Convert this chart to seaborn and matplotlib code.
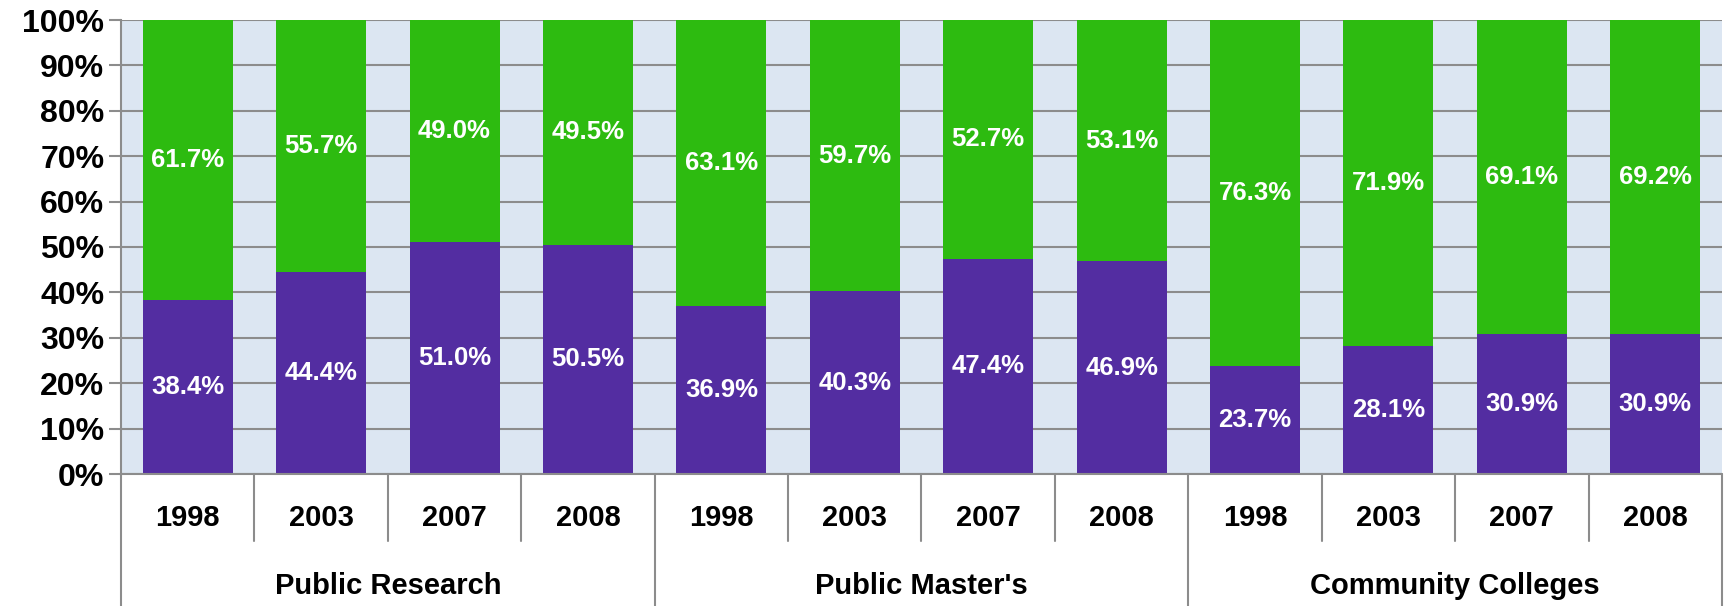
import pandas as pd
import numpy as np
import matplotlib.pyplot as plt
import matplotlib.transforms as mtransforms
import seaborn as sns

groups = ["Public Research", "Public Master's", "Community Colleges"]
years = ["1998", "2003", "2007", "2008"]
purple_vals = [38.4, 44.4, 51.0, 50.5, 36.9, 40.3, 47.4, 46.9, 23.7, 28.1, 30.9, 30.9]
green_vals = [61.7, 55.7, 49.0, 49.5, 63.1, 59.7, 52.7, 53.1, 76.3, 71.9, 69.1, 69.2]

purple = "#532DA1"
green = "#2DBB10"
grid_gray = "#8C8C8C"

sns.set_style("white")
plt.rcParams['font.family'] = ['Liberation Sans', 'DejaVu Sans']
plt.rcParams['font.weight'] = 'bold'
plt.rcParams['text.color'] = 'black'
plt.rcParams['ytick.labelcolor'] = 'black'

df = pd.DataFrame({
    "key": [f"{g}|{y}" for g in groups for y in years],
    "group": [g for g in groups for y in years],
    "year": [y for g in groups for y in years],
    "purple": purple_vals,
    "green": green_vals,
})
df["total"] = df["purple"] + df["green"]

fig = plt.figure(figsize=(17.31, 6.06), dpi=100)
ax = fig.add_axes([121 / 1731, 1 - 474 / 606, (1722 - 121) / 1731, 454 / 606])
ax.set_facecolor("#DCE6F2")

sns.barplot(data=df, x="key", y="total", color=green, width=0.675,
            saturation=1, ax=ax, zorder=3, linewidth=0)
sns.barplot(data=df, x="key", y="purple", color=purple, width=0.675,
            saturation=1, ax=ax, zorder=4, linewidth=0)

ax.set_ylim(0, 100)
ax.set_xlim(-0.5, len(df) - 0.5)
ax.set_yticks(np.arange(0, 101, 10))
ax.set_yticklabels([f"{v}%" for v in range(0, 101, 10)], fontsize=23,
                   fontweight="bold", color="black")
ax.yaxis.grid(True, color=grid_gray, linewidth=1.5, zorder=1)
ax.set_axisbelow(True)
ax.tick_params(axis="y", length=9, width=1.5, color=grid_gray, pad=3, left=True)
ax.set_xticks([])
ax.set_xlabel("")
ax.set_ylabel("")
for side in ["top", "right", "bottom"]:
    ax.spines[side].set_visible(False)
ax.spines["left"].set_color(grid_gray)
ax.spines["left"].set_linewidth(1.5)

# segment labels
for i, row in df.iterrows():
    ax.text(i, row["purple"] / 2, f"{row['purple']:.1f}%", ha="center", va="center",
            color="white", fontsize=18.5, fontweight="bold", zorder=5)
    ax.text(i, row["purple"] + row["green"] / 2, f"{row['green']:.1f}%", ha="center",
            va="center", color="white", fontsize=18.5, fontweight="bold", zorder=5)

# two-level category axis
trans = mtransforms.blended_transform_factory(ax.transData, ax.transAxes)
n = len(df)
ax.plot([-0.5, n - 0.5], [0, 0], color=grid_gray, lw=1.5, transform=trans, clip_on=False, zorder=6)
for b in range(n + 1):
    x = b - 0.5
    if b % len(years) == 0:
        ax.plot([x, x], [0, -0.30], color=grid_gray, lw=1.5, transform=trans, clip_on=False)
    else:
        ax.plot([x, x], [0, -0.148], color=grid_gray, lw=1.5, transform=trans, clip_on=False)
for i, row in df.iterrows():
    ax.text(i, -0.097, row["year"], ha="center", va="center", fontsize=21,
            fontweight="bold", color="black", transform=trans)
for gi, g in enumerate(groups):
    xc = gi * len(years) + (len(years) - 1) / 2
    ax.text(xc, -0.247, g, ha="center", va="center", fontsize=21,
            fontweight="bold", color="black", transform=trans)

fig.savefig("out.png", dpi=100)
